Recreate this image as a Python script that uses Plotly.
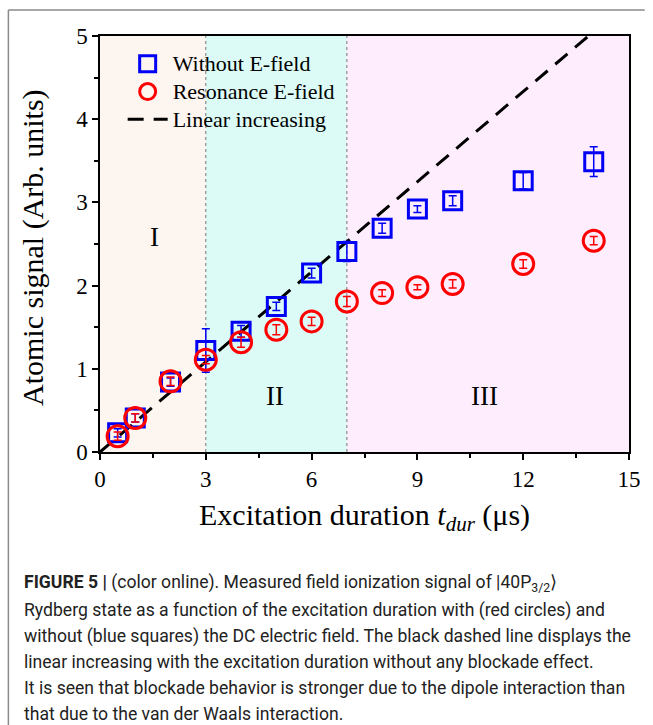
import plotly.graph_objects as go

# ---------------- data ----------------
t_us = [0.5, 1, 2, 3, 4, 5, 6, 7, 8, 9, 10, 12, 14]
without_field = [0.23, 0.41, 0.84, 1.22, 1.45, 1.75, 2.15, 2.41, 2.69, 2.92, 3.02, 3.26, 3.49]
without_err = [0.05, 0.05, 0.05, 0.26, 0.07, 0.05, 0.06, 0.12, 0.06, 0.04, 0.06, 0.10, 0.18]
resonance_field = [0.19, 0.41, 0.85, 1.11, 1.32, 1.47, 1.57, 1.81, 1.91, 1.98, 2.02, 2.26, 2.54]
resonance_err = [0.05, 0.05, 0.05, 0.05, 0.06, 0.06, 0.05, 0.06, 0.04, 0.03, 0.05, 0.05, 0.05]
linear_x = [0, 13.85]
linear_y = [0, 5.0]

series_names = ["Without E-field", "Resonance E-field", "Linear increasing"]

region_edges = [0, 3, 7, 15]
region_colors = ["#fdf5f0", "#dcfbf6", "#fdedfd"]
region_labels = ["I", "II", "III"]
region_label_pos = [(1.55, 2.58), (4.97, 0.67), (10.9, 0.67)]

x_ticks = [0, 3, 6, 9, 12, 15]
y_ticks = [0, 1, 2, 3, 4, 5]

caption_lines = [
    "<b>FIGURE 5 |</b> (color online). Measured field ionization signal of |40P<sub>3/2</sub>⟩",
    "Rydberg state as a function of the excitation duration with (red circles) and",
    "without (blue squares) the DC electric field. The black dashed line displays the",
    "linear increasing with the excitation duration without any blockade effect.",
    "It is seen that blockade behavior is stronger due to the dipole interaction than",
    "that due to the van der Waals interaction.",
]

# ---------------- geometry ----------------
W, H = 653, 725
L, R, T, B = 100, 637, 36, 452  # plot area in pixels
pw, ph = R - L, B - T


def px(x):
    return (x - L) / pw


def py(y):
    return (B - y) / ph


SERIF = "Liberation Serif, Times New Roman, serif"
SANS = "Roboto, Liberation Sans Narrow, Arial, sans-serif"


def leg(name):
    return '<span style="font-size:22px">' + name + "</span>"


fig = go.Figure()

fig.add_trace(go.Scatter(
    x=linear_x, y=linear_y, mode="lines", name=leg(series_names[2]),
    line=dict(color="black", width=3, dash="16px,10px"), legendrank=3,
))
fig.add_trace(go.Scatter(
    x=t_us, y=without_field, mode="markers", name=leg(series_names[0]),
    marker=dict(symbol="square-open", size=18, color="#0000f5", line=dict(width=3, color="#0000f5")),
    error_y=dict(type="data", array=without_err, visible=True, color="#0000f5", thickness=1.5, width=4),
    legendrank=1,
))
fig.add_trace(go.Scatter(
    x=t_us, y=resonance_field, mode="markers", name=leg(series_names[1]),
    marker=dict(symbol="circle-open", size=21, color="#ff0000", line=dict(width=3, color="#ff0000")),
    error_y=dict(type="data", array=resonance_err, visible=True, color="#ff0000", thickness=1.5, width=4),
    legendrank=2,
))

shapes = []
for i in range(3):
    shapes.append(dict(type="rect", xref="x", yref="paper", x0=region_edges[i], x1=region_edges[i + 1],
                       y0=0, y1=1, fillcolor=region_colors[i], line=dict(width=0), layer="below"))
for xe in region_edges[1:3]:
    shapes.append(dict(type="line", xref="x", yref="paper", x0=xe, x1=xe, y0=0, y1=1,
                       line=dict(color="#777777", width=1, dash="dot"), layer="below"))
# outer frame (top and left grey border)
shapes.append(dict(type="line", xref="paper", yref="paper", x0=px(7), x1=px(653), y0=py(10), y1=py(10),
                   line=dict(color="#8a8a8a", width=1.5)))
shapes.append(dict(type="line", xref="paper", yref="paper", x0=px(7), x1=px(7), y0=py(10), y1=py(725),
                   line=dict(color="#8a8a8a", width=1.5)))

annotations = []
for lab, (lx, ly) in zip(region_labels, region_label_pos):
    annotations.append(dict(x=lx, y=ly, xref="x", yref="y", text=lab, showarrow=False,
                            xanchor="center", yanchor="middle",
                            font=dict(family=SERIF, size=27, color="black")))
annotations.append(dict(x=px(32), y=py(248), xref="paper", yref="paper", text="Atomic signal (Arb. units)",
                        textangle=-90, showarrow=False, xanchor="center", yanchor="middle",
                        font=dict(family=SERIF, size=30, color="black")))
annotations.append(dict(x=px(368), y=py(517), xref="paper", yref="paper",
                        text="Excitation duration <i>t</i><sub><i>dur</i></sub> (μs)",
                        showarrow=False, xanchor="center", yanchor="middle",
                        font=dict(family=SERIF, size=30, color="black")))
cap_y = [583, 610, 636, 662, 688, 714]
for line, yy in zip(caption_lines, cap_y):
    annotations.append(dict(x=px(21), y=py(yy), xref="paper", yref="paper", text=line, showarrow=False,
                            xanchor="left", yanchor="middle", align="left",
                            font=dict(family=SANS, size=17.6, color="#222222")))

axis_common = dict(
    showline=True, linecolor="black", linewidth=1.5, mirror=True, showgrid=False, zeroline=False,
    ticks="outside", ticklen=6, tickwidth=1.5, tickcolor="black",
    tickfont=dict(family=SERIF, size=23, color="black"),
)

fig.update_layout(
    width=W, height=H, margin=dict(l=L, r=W - R, t=T, b=H - B),
    paper_bgcolor="white", plot_bgcolor="white",
    xaxis=dict(range=[0, 15], tickvals=x_ticks,
               minor=dict(tickvals=[1.5, 4.5, 7.5, 10.5, 13.5], ticks="outside", ticklen=4,
                          tickwidth=1.5, tickcolor="black"),
               **axis_common),
    yaxis=dict(range=[0, 5], tickvals=y_ticks,
               minor=dict(tickvals=[0.5, 1.5, 2.5, 3.5, 4.5], ticks="outside", ticklen=4,
                          tickwidth=1.5, tickcolor="black"),
               **axis_common),
    showlegend=True,
    legend=dict(x=px(123), y=py(45), xanchor="left", yanchor="top", bgcolor="rgba(0,0,0,0)",
                font=dict(family=SERIF, size=19, color="black"), tracegroupgap=0,
                itemwidth=40),
    shapes=shapes, annotations=annotations,
)

fig.write_html("out.html")
